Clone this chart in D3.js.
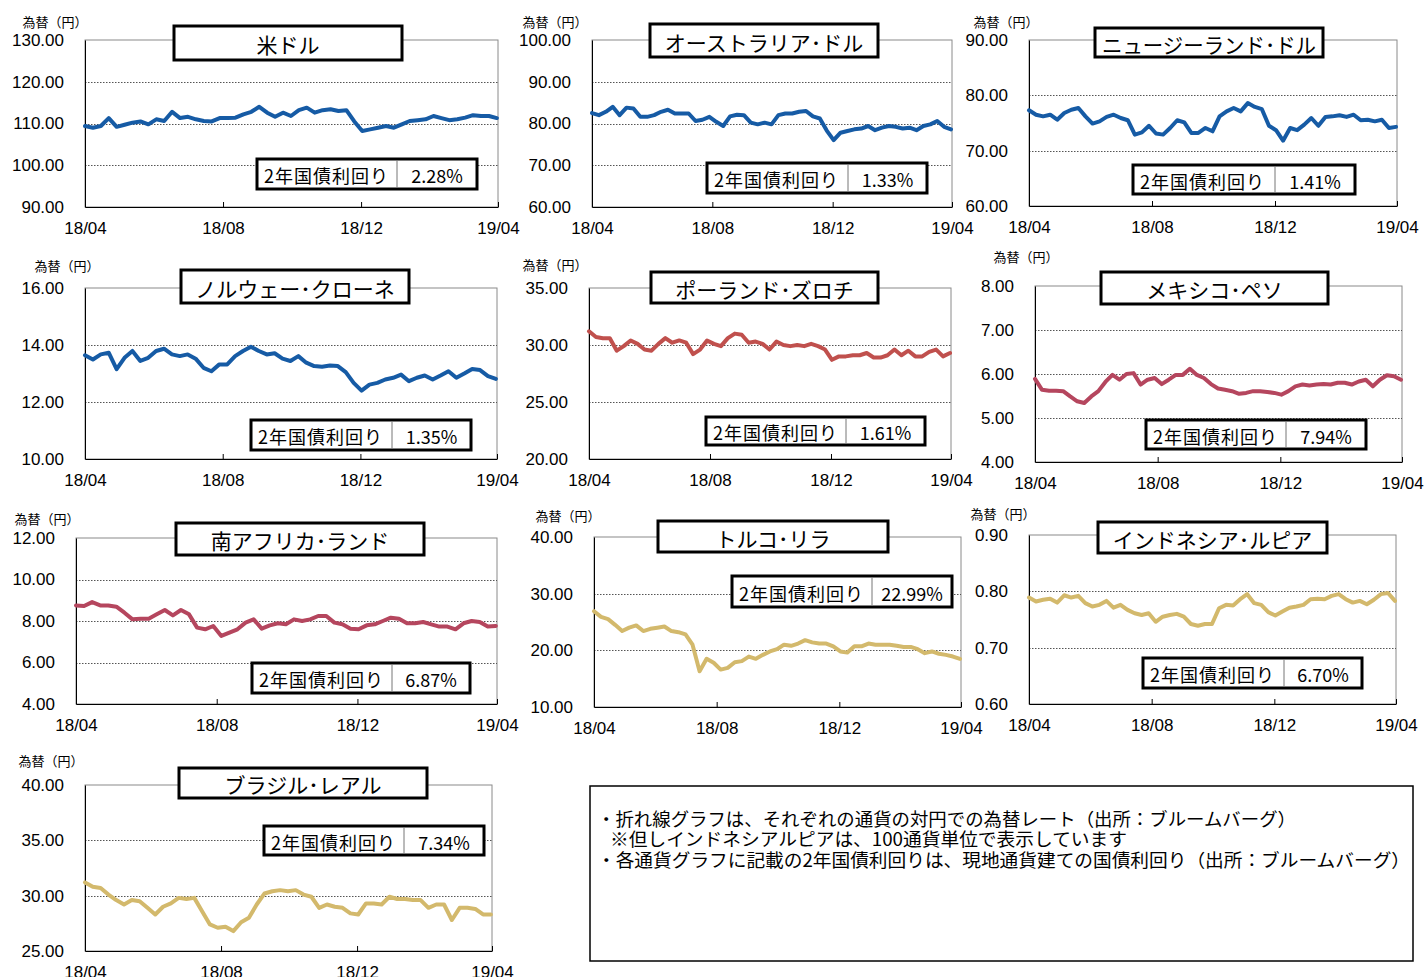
<!DOCTYPE html>
<html>
<head>
<meta charset="utf-8">
<script src="https://cdn.jsdelivr.net/npm/d3@7"></script>
<style>
  body { margin: 0; background: #fff; }
  svg { display: block; }
</style>
</head>
<body>
<div id="chart"></div>
<script>
// == chart data
const names = ["米ドル", "オーストラリア･ドル", "ニュージーランド･ドル", "ノルウェー･クローネ", "ポーランド･ズロチ",
  "メキシコ･ペソ", "南アフリカ･ランド", "トルコ･リラ", "インドネシア･ルピア", "ブラジル･レアル"];
const yields = ["2.28%", "1.33%", "1.41%", "1.35%", "1.61%", "7.94%", "6.87%", "22.99%", "6.70%", "7.34%"];
const yTicks = [
  [90, 100, 110, 120, 130], [60, 70, 80, 90, 100], [60, 70, 80, 90], [10, 12, 14, 16], [20, 25, 30, 35],
  [4, 5, 6, 7, 8], [4, 6, 8, 10, 12], [10, 20, 30, 40], [0.6, 0.7, 0.8, 0.9], [25, 30, 35, 40]
];
const xTickLabels = ["18/04", "18/08", "18/12", "19/04"];
const xTickDates = ["2018-04-01", "2018-08-01", "2018-12-01", "2019-04-01"];

// weekly closes, 2018/04 -> 2019/04
const usd = [109.4,109.0,109.4,111.3,109.2,109.7,110.2,110.5,109.8,111.0,110.6,112.8,111.3,111.6,111.0,110.6,110.5,111.3,111.3,111.4,
  112.2,112.8,114.0,112.6,111.6,112.6,111.8,113.2,113.8,112.6,113.2,113.4,113.0,113.2,110.5,108.2,108.6,109.0,109.4,109.0,
  109.8,110.6,110.8,111.0,111.8,111.3,110.8,111.0,111.4,112.0,111.8,111.8,111.3];
const aud = [82.5,82.0,82.8,84.0,82.0,83.8,83.6,81.6,81.6,82.0,82.8,83.3,82.4,82.4,82.4,80.6,80.9,81.6,80.4,79.4,
  81.7,82.1,82.0,80.2,79.8,80.2,79.8,82.0,82.4,82.4,82.8,83.0,81.7,81.2,78.3,76.0,77.8,78.2,78.6,78.8,
  79.4,78.4,79.0,79.4,79.2,78.8,79.0,78.4,79.4,79.8,80.6,79.2,78.6];
const nzd = [77.3,76.5,76.2,76.5,75.6,76.8,77.4,77.7,76.2,74.9,75.3,76.1,76.5,75.9,75.5,72.9,73.3,74.5,73.1,72.9,
  74.1,75.5,75.1,73.2,73.2,74.1,73.5,76.2,77.1,77.7,77.1,78.6,77.9,77.5,74.5,73.7,71.8,74.1,73.7,74.7,
  75.9,74.5,76.1,76.2,76.4,76.1,76.5,75.5,75.6,75.3,75.6,74.1,74.3];
const nok = [13.64,13.49,13.67,13.73,13.15,13.55,13.79,13.44,13.55,13.79,13.87,13.67,13.61,13.67,13.52,13.20,13.08,13.32,13.32,13.61,
  13.79,13.94,13.79,13.67,13.71,13.52,13.44,13.61,13.38,13.26,13.24,13.28,13.26,13.05,12.67,12.40,12.61,12.67,12.79,12.85,
  12.96,12.73,12.85,12.93,12.79,12.93,13.08,12.85,13.00,13.16,13.12,12.91,12.81];
const pln = [31.2,30.7,30.6,30.6,29.5,29.9,30.4,30.1,29.6,29.5,30.1,30.6,30.2,30.4,30.2,29.2,29.6,30.4,30.1,29.9,
  30.6,31.0,30.9,30.2,30.3,30.1,29.6,30.3,30.0,29.9,30.0,29.9,30.1,29.9,29.6,28.7,29.0,29.0,29.1,29.1,
  29.3,28.9,28.9,29.1,29.6,29.1,29.5,29.0,29.0,29.4,29.6,29.0,29.3];
const mxn = [5.89,5.64,5.62,5.62,5.61,5.49,5.38,5.34,5.49,5.61,5.82,5.98,5.87,6.00,6.02,5.76,5.87,5.91,5.77,5.87,
  5.98,5.98,6.12,5.98,5.91,5.77,5.67,5.64,5.61,5.55,5.57,5.61,5.61,5.59,5.57,5.53,5.61,5.72,5.76,5.74,
  5.76,5.77,5.76,5.80,5.80,5.76,5.83,5.87,5.72,5.87,5.97,5.95,5.87];
const zar = [8.75,8.72,8.91,8.75,8.75,8.69,8.40,8.08,8.11,8.11,8.32,8.53,8.27,8.53,8.32,7.68,7.60,7.76,7.28,7.44,
  7.60,7.92,8.08,7.63,7.79,7.89,7.84,8.08,8.00,8.08,8.24,8.24,7.92,7.84,7.63,7.60,7.79,7.84,8.00,8.16,
  8.11,7.89,7.89,7.95,7.84,7.73,7.73,7.60,7.89,8.00,7.95,7.73,7.76];
const tryl = [26.9,25.9,25.5,24.5,23.4,24.0,24.4,23.4,23.8,24.0,24.2,23.4,23.2,22.8,21.0,16.3,18.5,17.8,16.6,16.9,
  17.9,18.1,18.9,18.5,19.2,19.8,20.2,21.0,20.8,21.2,21.8,21.4,21.2,21.2,20.7,19.8,19.6,20.7,20.7,21.2,
  21.0,21.0,21.0,20.8,20.6,20.6,20.2,19.5,19.8,19.4,19.2,18.9,18.5];
const idr = [0.789,0.782,0.785,0.787,0.780,0.793,0.789,0.792,0.779,0.773,0.776,0.783,0.771,0.776,0.767,0.761,0.758,0.761,0.746,0.755,
  0.758,0.760,0.755,0.742,0.739,0.742,0.742,0.770,0.776,0.775,0.786,0.795,0.779,0.776,0.763,0.757,0.764,0.771,0.773,0.776,
  0.786,0.787,0.786,0.792,0.795,0.786,0.780,0.783,0.777,0.785,0.795,0.797,0.783];
const brl = [31.2,30.8,30.7,30.1,29.6,29.2,29.6,29.5,28.9,28.3,29.0,29.3,29.8,29.7,29.8,28.6,27.4,27.1,27.2,26.8,
  27.6,28.0,29.2,30.2,30.4,30.5,30.4,30.5,30.1,29.9,28.9,29.2,29.0,28.9,28.4,28.3,29.3,29.3,29.2,29.9,
  29.7,29.7,29.6,29.6,28.9,29.2,29.2,27.8,28.9,28.9,28.8,28.3,28.3];
const series = [usd, aud, nzd, nok, pln, mxn, zar, tryl, idr, brl];

// == styling / layout
const BLUE = "#165BA5", RED = "#C0504D", CRIMSON = "#B5465E", GOLD = "#D3B96C";
const colors = [BLUE, BLUE, BLUE, BLUE, RED, CRIMSON, CRIMSON, GOLD, GOLD, GOLD];
const LAYOUT = [
  { l: 85, r: 498, t: 40, b: 207, title: [174, 26, 402, 60], yb: [257, 159, 477, 189, 397], lab: [55, 27] },
  { l: 592, r: 952, t: 40, b: 207, title: [650, 24, 878, 57], yb: [707, 163, 927, 193, 848], lab: [555, 27] },
  { l: 1029, r: 1397, t: 40, b: 206, title: [1095, 28, 1323, 57], yb: [1133, 165, 1355, 194, 1275], lab: [1006, 27] },
  { l: 85, r: 497, t: 288, b: 459, title: [181, 270, 409, 303], yb: [251, 420, 471, 450, 392], lab: [67, 271] },
  { l: 589, r: 951, t: 288, b: 459, title: [651, 272, 878, 303], yb: [706, 417, 925, 445, 846], lab: [555, 270] },
  { l: 1035, r: 1402, t: 286, b: 462, title: [1101, 272, 1328, 304], yb: [1146, 420, 1366, 449, 1286], lab: [1026, 262] },
  { l: 76, r: 497, t: 538, b: 704, title: [176, 523, 424, 555], yb: [252, 663, 470, 693, 392], lab: [47, 524] },
  { l: 594, r: 961, t: 537, b: 707, title: [658, 521, 888, 552], yb: [732, 576, 952, 607, 872], lab: [568, 521] },
  { l: 1029, r: 1396, t: 535, b: 704, title: [1098, 522, 1327, 553], yb: [1143, 658, 1362, 688, 1284], lab: [1003, 519] },
  { l: 85, r: 492, t: 785, b: 951, title: [179, 768, 427, 798], yb: [264, 826, 484, 855, 404], lab: [51, 766] }
];
const NUM_FONT = "'Liberation Sans', Arial, sans-serif";
const JP_FONT = "'Noto Sans CJK JP', 'Noto Sans', sans-serif";

const start = new Date(2018, 3, 1);
const end = new Date(2019, 3, 1);
const parse = d3.timeParse("%Y-%m-%d");

const svg = d3.select("#chart").append("svg")
  .attr("width", 1424)
  .attr("height", 977);

function drawPanel(i) {
  const L = LAYOUT[i];
  const ticks = yTicks[i];
  const g = svg.append("g");

  const x = d3.scaleTime().domain([start, end]).range([L.l, L.r]);
  const y = d3.scaleLinear().domain(d3.extent(ticks)).range([L.b, L.t]);

  // frame
  g.append("rect")
    .attr("x", L.l).attr("y", L.t)
    .attr("width", L.r - L.l).attr("height", L.b - L.t)
    .attr("fill", "none").attr("stroke", "#8a8a8a").attr("stroke-width", 1);

  // dotted gridlines
  g.selectAll(".grid").data(ticks.slice(1, -1)).enter().append("line")
    .attr("x1", L.l).attr("x2", L.r)
    .attr("y1", d => Math.round(y(d)) + 0.5).attr("y2", d => Math.round(y(d)) + 0.5)
    .attr("stroke", "#555").attr("stroke-width", 1).attr("stroke-dasharray", "1.5,1.5");

  // y axis
  const yAxis = d3.axisLeft(y).tickValues(ticks).tickFormat(d3.format(".2f")).tickSize(0).tickPadding(21);
  g.append("g").attr("transform", `translate(${L.l},0)`).call(yAxis)
    .call(s => s.select(".domain").attr("stroke", "#000"))
    .selectAll("text").attr("font-family", NUM_FONT).attr("font-size", 17).attr("fill", "#000");

  // x axis, ticks pointing inwards
  const xAxis = d3.axisBottom(x).tickValues(xTickDates.map(parse))
    .tickFormat((d, k) => xTickLabels[k]).tickSizeInner(-5).tickSizeOuter(0).tickPadding(15);
  g.append("g").attr("transform", `translate(0,${L.b})`).call(xAxis)
    .call(s => s.select(".domain").attr("stroke", "#000"))
    .call(s => s.selectAll(".tick line").attr("stroke", "#000"))
    .selectAll("text").attr("font-family", NUM_FONT).attr("font-size", 17).attr("fill", "#000");

  // the line
  const line = d3.line()
    .x((d, k) => x(d3.timeDay.offset(start, 7 * k)))
    .y(d => y(d));
  g.append("path").datum(series[i])
    .attr("d", line)
    .attr("fill", "none")
    .attr("stroke", colors[i])
    .attr("stroke-width", 4)
    .attr("stroke-linejoin", "round")
    .attr("stroke-linecap", "round");

  // unit label
  g.append("text")
    .attr("x", L.lab[0]).attr("y", L.lab[1])
    .attr("text-anchor", "middle")
    .attr("font-family", JP_FONT).attr("font-size", 13)
    .text("為替（円）");

  // title box
  const [tx0, ty0, tx1, ty1] = L.title;
  g.append("rect")
    .attr("x", tx0).attr("y", ty0).attr("width", tx1 - tx0).attr("height", ty1 - ty0)
    .attr("fill", "#fff").attr("stroke", "#000").attr("stroke-width", 3);
  const tt = g.append("text")
    .attr("x", (tx0 + tx1) / 2).attr("y", (ty0 + ty1) / 2 + 1)
    .attr("text-anchor", "middle").attr("dominant-baseline", "central")
    .attr("font-family", JP_FONT).attr("font-size", 21)
    .text(names[i]);
  if (tt.node().getComputedTextLength() > tx1 - tx0 - 14) {
    tt.attr("textLength", tx1 - tx0 - 14).attr("lengthAdjust", "spacingAndGlyphs");
  }

  // yield box
  const [bx0, by0, bx1, by1, bdiv] = L.yb;
  g.append("rect")
    .attr("x", bx0).attr("y", by0).attr("width", bx1 - bx0).attr("height", by1 - by0)
    .attr("fill", "#fff").attr("stroke", "#000").attr("stroke-width", 3);
  g.append("line")
    .attr("x1", bdiv).attr("x2", bdiv).attr("y1", by0 + 1.5).attr("y2", by1 - 1.5)
    .attr("stroke", "#777").attr("stroke-width", 1);
  g.append("text")
    .attr("x", bx0 + 7).attr("y", (by0 + by1) / 2 + 1)
    .attr("dominant-baseline", "central")
    .attr("font-family", JP_FONT).attr("font-size", 18).attr("letter-spacing", 1)
    .text("2年国債利回り");
  g.append("text")
    .attr("x", (bdiv + bx1) / 2).attr("y", (by0 + by1) / 2 + 1)
    .attr("text-anchor", "middle").attr("dominant-baseline", "central")
    .attr("font-family", JP_FONT).attr("font-size", 18)
    .text(yields[i]);
}

d3.range(names.length).forEach(drawPanel);

// notes box
const notes = [
  { text: "・折れ線グラフは、それぞれの通貨の対円での為替レート（出所：ブルームバーグ）", x: 597, y: 826, w: 699 },
  { text: "※但しインドネシアルピアは、100通貨単位で表示しています", x: 610, y: 846, w: 517 },
  { text: "・各通貨グラフに記載の2年国債利回りは、現地通貨建ての国債利回り（出所：ブルームバーグ）", x: 597, y: 867, w: 813 }
];
svg.append("rect")
  .attr("x", 590).attr("y", 786).attr("width", 823).attr("height", 175)
  .attr("fill", "#fff").attr("stroke", "#000").attr("stroke-width", 1.5);
svg.selectAll(".note").data(notes).enter().append("text")
  .attr("x", d => d.x).attr("y", d => d.y)
  .attr("textLength", d => d.w).attr("lengthAdjust", "spacingAndGlyphs")
  .attr("font-family", JP_FONT).attr("font-size", 18)
  .text(d => d.text);
</script>
</body>
</html>
